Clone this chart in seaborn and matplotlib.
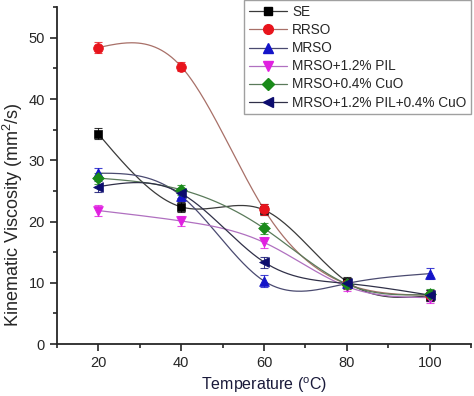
import numpy as np
import seaborn as sns
import matplotlib.pyplot as plt
from matplotlib.ticker import MultipleLocator

# temperatures (C) and kinematic viscosity (mm2/s)
temps = [20, 40, 60, 80, 100]
se = [34.3, 22.4, 21.9, 10.2, 7.9]
rrso = [48.4, 45.3, 22.0, 9.8, 8.0]
mrso = [27.9, 24.2, 10.3, 9.9, 11.5]
mrso_pil = [21.8, 20.1, 16.6, 9.4, 7.6]
mrso_cuo = [27.1, 25.2, 18.9, 9.8, 8.1]
mrso_pil_cuo = [25.7, 24.6, 13.4, 9.9, 8.0]
err = [0.9, 0.8, 0.9, 0.8, 0.9]

labels = ['SE', 'RRSO', 'MRSO', 'MRSO+1.2% PIL', 'MRSO+0.4% CuO',
          'MRSO+1.2% PIL+0.4% CuO']
series = [se, rrso, mrso, mrso_pil, mrso_cuo, mrso_pil_cuo]
markers = ['s', 'o', '^', 'v', 'D', '<']
mcolors = ['#000000', '#e8141c', '#1414c8', '#e020e0', '#1a8a1a', '#0c0c6e']
lcolors = ['#3a3a3a', '#a87068', '#4a4a70', '#b070c0', '#5a7a5a', '#303048']
msizes = [6, 7, 7, 7, 6, 7]


def spline(x, y, n=200):
    # natural cubic spline connector, like Origin's "spline" line
    x = np.asarray(x, float)
    y = np.asarray(y, float)
    k = len(x)
    h = np.diff(x)
    A = np.zeros((k, k))
    b = np.zeros(k)
    A[0, 0] = A[-1, -1] = 1
    for i in range(1, k - 1):
        A[i, i - 1] = h[i - 1]
        A[i, i] = 2 * (h[i - 1] + h[i])
        A[i, i + 1] = h[i]
        b[i] = 6 * ((y[i + 1] - y[i]) / h[i] - (y[i] - y[i - 1]) / h[i - 1])
    m = np.linalg.solve(A, b)
    xs = np.linspace(x[0], x[-1], n)
    idx = np.clip(np.searchsorted(x, xs) - 1, 0, k - 2)
    x0, x1 = x[idx], x[idx + 1]
    hh = x1 - x0
    t0, t1 = x1 - xs, xs - x0
    ys = (m[idx] * t0**3 + m[idx + 1] * t1**3) / (6 * hh) \
        + (y[idx] / hh - m[idx] * hh / 6) * t0 \
        + (y[idx + 1] / hh - m[idx + 1] * hh / 6) * t1
    return xs, ys


sns.set_style('ticks')
plt.rcParams['font.family'] = ['Liberation Sans', 'DejaVu Sans']
plt.rcParams['mathtext.default'] = 'regular'

fig, ax = plt.subplots(figsize=(4.74, 3.96), dpi=100)
fig.subplots_adjust(left=0.12, right=0.994, bottom=0.131, top=0.982)

for lab, ys, mk, mc, lc, ms in zip(labels, series, markers, mcolors, lcolors, msizes):
    sx, sy = spline(temps, ys)
    ax.plot(sx, sy, color=lc, lw=0.9, zorder=2)
    ax.errorbar(temps, ys, yerr=err, fmt='none', ecolor=mc, elinewidth=0.8,
                capsize=3, capthick=0.8, alpha=0.8, zorder=3)
    ax.plot([], [], color=lc, lw=0.9, marker=mk, mfc=mc, mec=mc, ms=ms, label=lab)
    sns.scatterplot(x=temps, y=ys, marker=mk, color=mc, edgecolor=mc,
                    s=ms**2, ax=ax, zorder=4, legend=False)

ax.set_xlim(10, 110)
ax.set_ylim(0, 55)
ax.xaxis.set_major_locator(MultipleLocator(20))
ax.xaxis.set_minor_locator(MultipleLocator(10))
ax.yaxis.set_major_locator(MultipleLocator(10))
ax.yaxis.set_minor_locator(MultipleLocator(5))
ax.set_xticks([20, 40, 60, 80, 100])
ax.tick_params(which='major', direction='out', length=5, width=1.2, labelsize=10.5)
ax.tick_params(which='minor', direction='out', length=3, width=1.2)
for s in ['left', 'bottom']:
    ax.spines[s].set_linewidth(1.3)
sns.despine(ax=ax)

ax.set_xlabel('Temperature ($^{o}$C)', fontsize=11.5, color='#1a1a3a', labelpad=4)
ax.set_ylabel('Kinematic Viscosity (mm$^2$/s)', fontsize=13)
ax.yaxis.set_label_coords(-0.078, 0.383)

leg = ax.legend(loc='upper right', bbox_to_anchor=(1.0, 1.02), fontsize=9.8,
                frameon=True, fancybox=False, edgecolor='#888888',
                handlelength=2.8, handletextpad=0.4, borderpad=0.35,
                labelspacing=0.3, borderaxespad=0)
leg.get_frame().set_linewidth(1.0)

fig.savefig('out.png', dpi=100)
